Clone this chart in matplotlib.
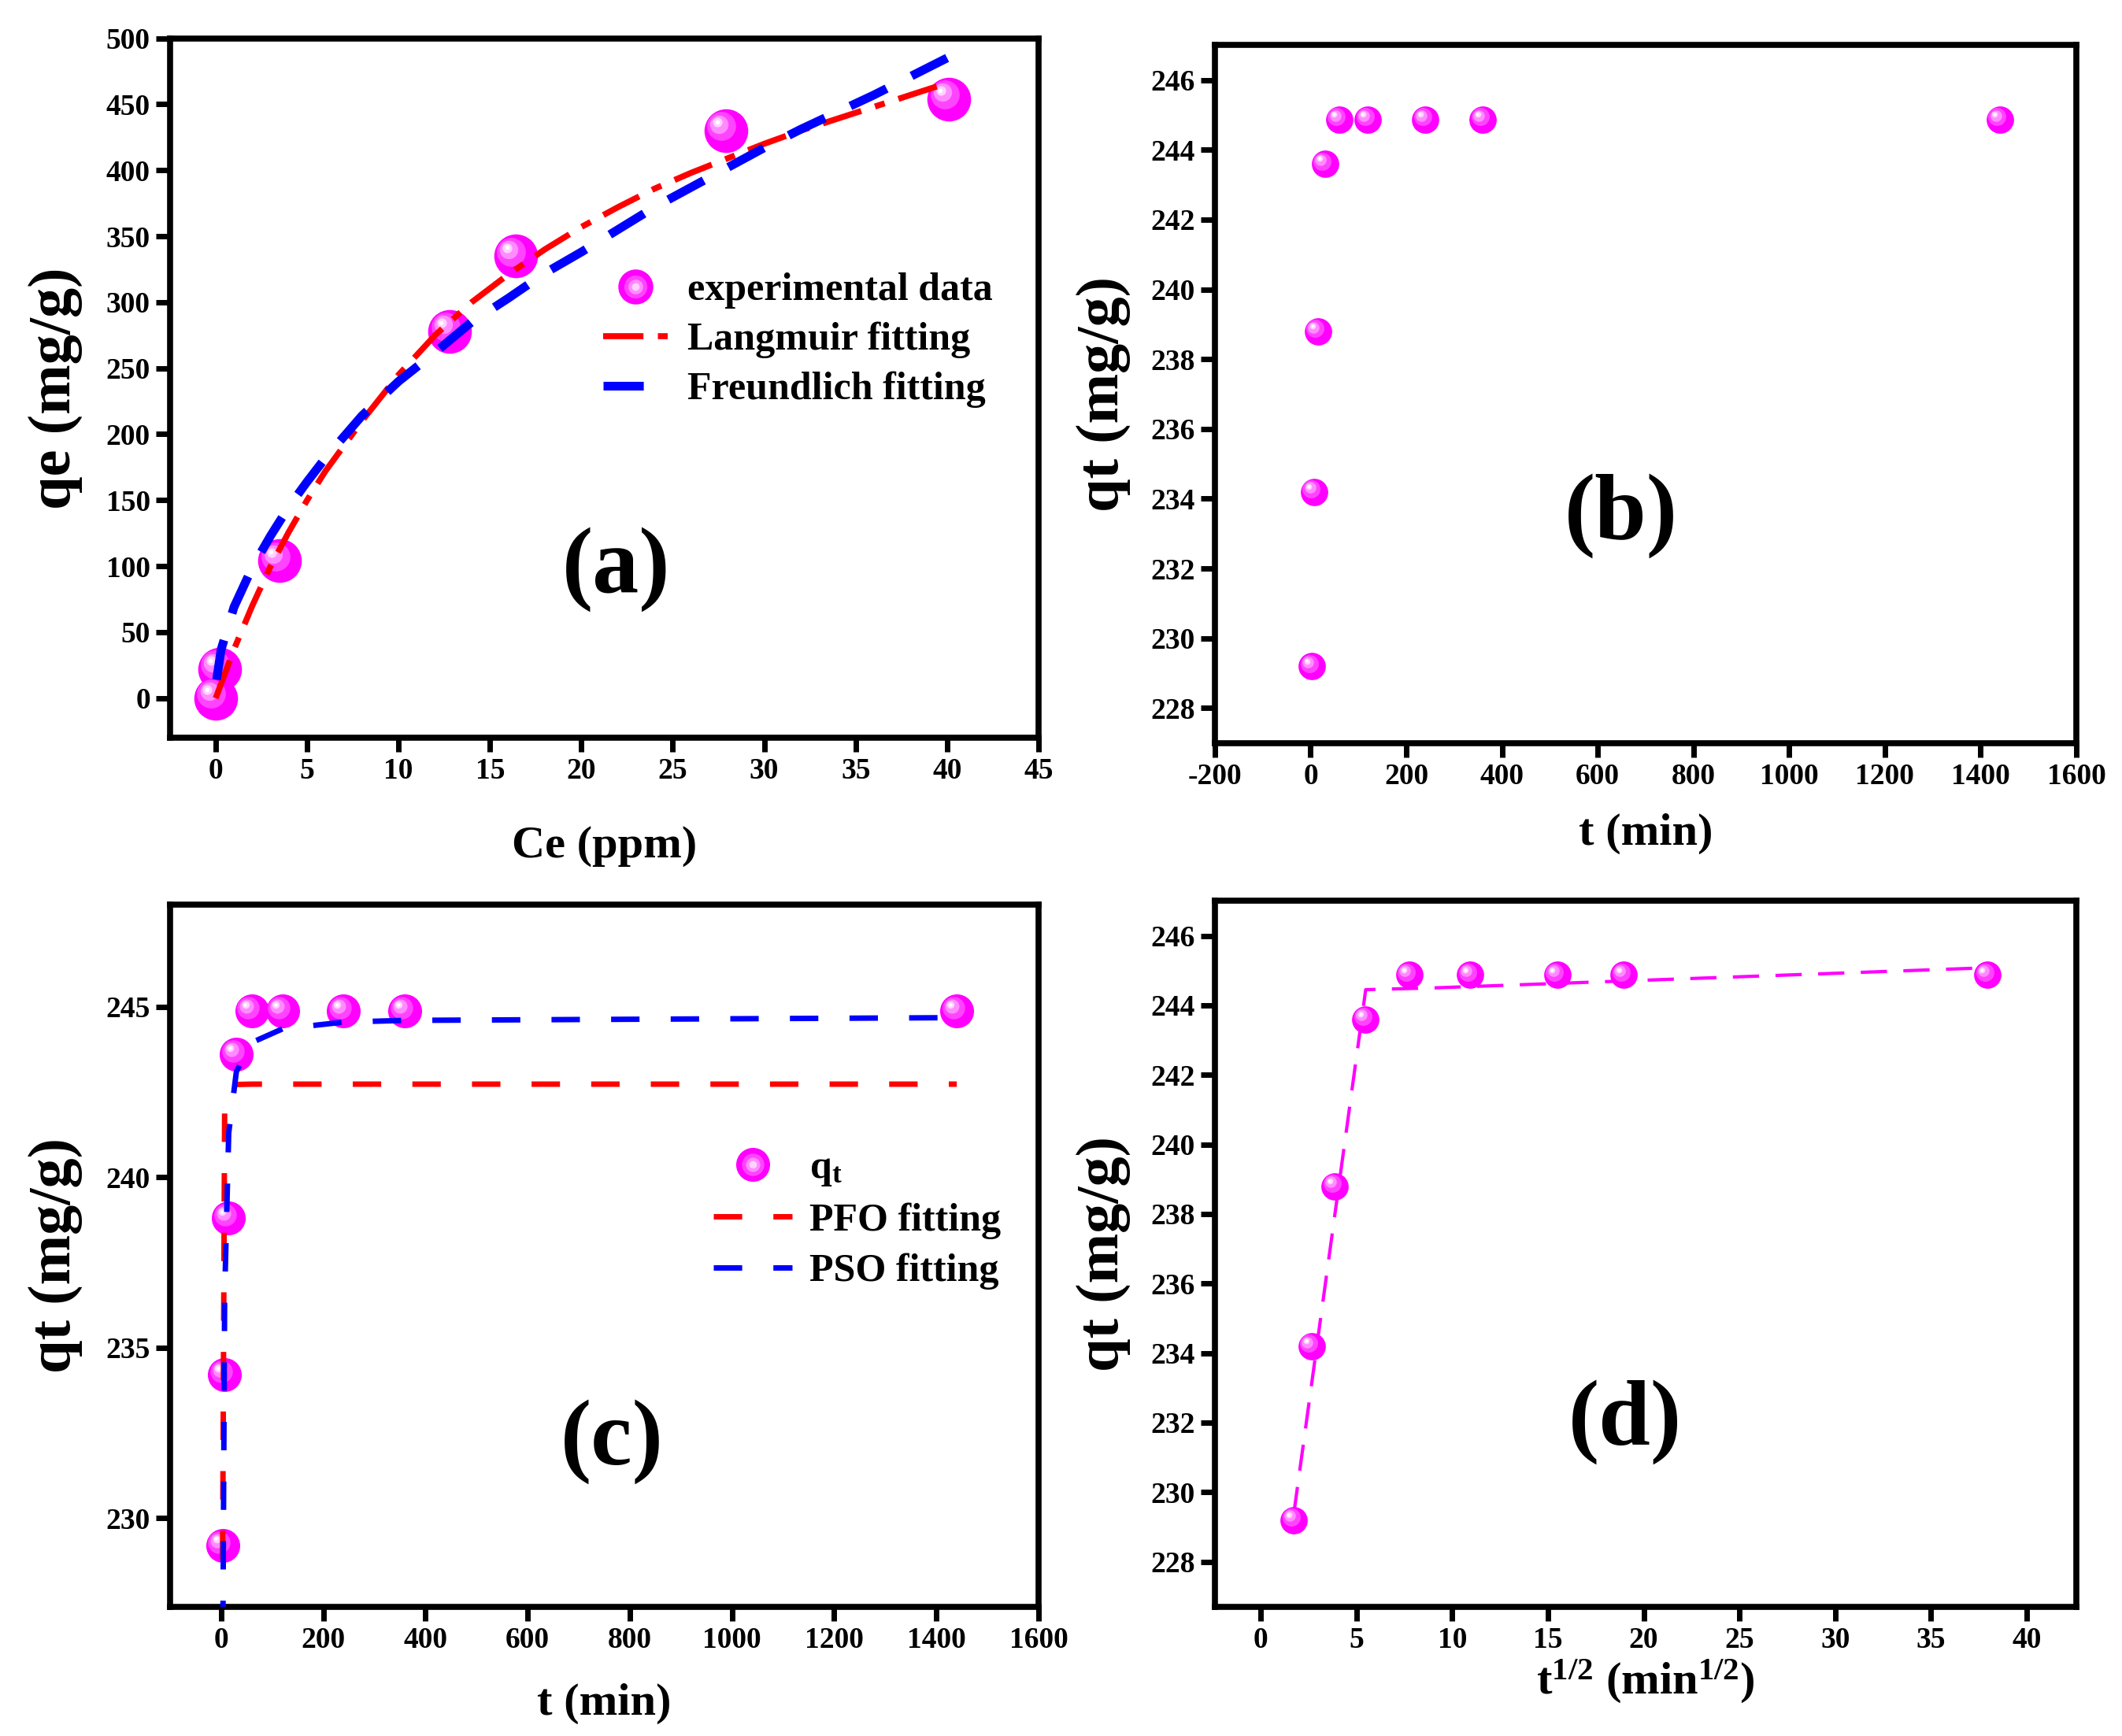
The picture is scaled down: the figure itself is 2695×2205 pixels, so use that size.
import matplotlib
matplotlib.use("Agg")
import matplotlib.pyplot as plt
from matplotlib.lines import Line2D
from matplotlib.transforms import offset_copy
from matplotlib.legend_handler import HandlerTuple

plt.rcParams['font.family'] = ['Liberation Serif', 'DejaVu Serif']
plt.rcParams['font.weight'] = 'bold'
plt.rcParams['axes.unicode_minus'] = False
plt.rcParams['mathtext.fontset'] = 'custom'
plt.rcParams['mathtext.rm'] = 'Liberation Serif:bold'
plt.rcParams['mathtext.it'] = 'Liberation Serif:italic:bold'
plt.rcParams['mathtext.bf'] = 'Liberation Serif:bold'

# ---------------- data ----------------
# (a) isotherm
ce = [0.0, 0.2, 3.5, 12.8, 16.4, 27.9, 40.1]
qe = [0.0, 22.0, 104.0, 278.0, 335.0, 430.0, 454.0]
lang_x = [0, 1, 2, 3, 4, 5, 6, 8, 10, 12, 14, 16, 18, 20, 22, 24, 26, 28, 30, 32, 34, 36, 38, 40]
lang_y = [0, 37, 70, 100, 126, 150, 172, 210, 245, 275, 300, 321, 340, 357, 372, 386, 398, 409, 420, 430, 439, 448, 457, 466]
frd_x = [0.05, 0.3, 1, 2, 3, 4, 5, 6, 8, 10, 12, 14, 16, 18, 20, 22, 24, 26, 28, 30, 32, 34, 36, 38, 40]
frd_y = [14, 37, 69, 99, 123, 145, 164, 182, 214, 240, 262, 285, 303, 322, 338, 355, 372, 387, 402, 417, 431, 444, 457, 471, 485]

# (b),(c) kinetics
t_min = [3, 7, 15, 30, 60, 120, 240, 360, 1440]
qt = [229.2, 234.2, 238.8, 243.6, 244.87, 244.87, 244.87, 244.87, 244.87]
pfo_q = [228.8, 241.9, 242.6, 242.72, 242.73, 242.73, 242.73, 242.73, 242.73]
pso_q = [225.0, 236.5, 241.3, 243.1, 243.95, 244.35, 244.55, 244.6, 244.68]

# (d) intraparticle diffusion
sqrt_t = [1.73, 2.65, 3.87, 5.48, 7.75, 10.95, 15.49, 18.97, 37.95]
ipd_x = [1.73, 5.48, 9.0, 37.95]
ipd_y = [229.4, 244.45, 244.5, 245.08]

# ---------------- style ----------------
MAG = '#ff00ff'
FS_TICK = 27
FS_LEG = 36
SPINE_LW = 5.5

fig = plt.figure(figsize=(26.95, 22.05), dpi=100)
axa = fig.add_axes([0.0801, 0.575, 0.4093, 0.403])
axb = fig.add_axes([0.5725, 0.572, 0.406, 0.402])
axc = fig.add_axes([0.0801, 0.0744, 0.4093, 0.4046])
axd = fig.add_axes([0.5725, 0.0744, 0.406, 0.4066])


def style(ax):
    for s in ax.spines.values():
        s.set_linewidth(SPINE_LW)
    ax.tick_params(axis='both', which='major', direction='out', length=13, width=5,
                   labelsize=FS_TICK, pad=5, top=False, right=False)
    for lab in ax.get_xticklabels() + ax.get_yticklabels():
        lab.set_fontweight('bold')


LAYERS = [(1.0, MAG, 0.0), (0.66, '#ff44ff', 0.10), (0.42, '#ff8cff', 0.15),
          (0.22, '#ffd2ff', 0.19), (0.10, '#ffffff', 0.2)]


def spheres(ax, x, y, ms, zorder=3):
    for frac, col, off in LAYERS:
        tr = offset_copy(ax.transData, fig=ax.figure, x=-off * ms, y=off * ms, units='points')
        ax.plot(x, y, 'o', ms=ms * frac, color=col, mec='none', ls='none',
                transform=tr, zorder=zorder, clip_on=False)


def sphere_handle(ms):
    return tuple(Line2D([], [], marker='o', ms=ms * frac, color=col, mec='none', ls='none')
                 for frac, col, off in LAYERS[:4])


def set_labels(ax, xl, yl, xy, yx, xsize, ysize):
    ax.set_xlabel(xl, fontsize=xsize, fontweight='bold')
    ax.set_ylabel(yl, fontsize=ysize, fontweight='bold')
    ax.xaxis.label.set_va('center')
    ax.yaxis.label.set_va('center')
    ax.xaxis.set_label_coords(0.5, xy)
    ax.yaxis.set_label_coords(yx, 0.5)


legprop = dict(family='Liberation Serif', weight='bold', size=FS_LEG)

# ---------------- (a) ----------------
ax = axa
spheres(ax, ce, qe, 40, zorder=3)
la, = ax.plot(lang_x, lang_y, color='red', lw=5.5, dashes=(6.7, 2.4, 1.7, 2.4), zorder=4)
lf, = ax.plot(frd_x, frd_y, color='blue', lw=8, dashes=(4.6, 3.2), zorder=4)
ax.set_xlim(-2.5, 45)
ax.set_ylim(-30, 500)
ax.set_xticks(range(0, 46, 5))
ax.set_yticks(range(0, 501, 50))
style(ax)
set_labels(ax, 'Ce (ppm)', 'qe (mg/g)', -0.155, -0.132, 42, 55)
ax.legend([sphere_handle(32), la, lf], ['experimental data', 'Langmuir fitting', 'Freundlich fitting'],
          handler_map={tuple: HandlerTuple(ndivide=1)},
          loc='upper left', bbox_to_anchor=(0.499, 0.665), frameon=False, borderpad=0,
          borderaxespad=0, handlelength=1.64, handletextpad=0.5, labelspacing=0.33,
          prop=legprop)
ax.text(0.514, 0.241, '(a)', transform=ax.transAxes, ha='center', va='center',
        fontsize=85, fontweight='bold')

# ---------------- (b) ----------------
ax = axb
spheres(ax, t_min, qt, 25)
ax.set_xlim(-200, 1600)
ax.set_ylim(227, 247)
ax.set_xticks(range(-200, 1601, 200))
ax.set_yticks(range(228, 247, 2))
style(ax)
set_labels(ax, 't (min)', 'qt (mg/g)', -0.130, -0.129, 42, 55)
ax.text(0.472, 0.326, '(b)', transform=ax.transAxes, ha='center', va='center',
        fontsize=85, fontweight='bold')

# ---------------- (c) ----------------
ax = axc
spheres(ax, t_min, qt, 31)
lp, = ax.plot(t_min, pfo_q, color='red', lw=5, dashes=(5.2, 5.7), zorder=4)
ls_, = ax.plot(t_min, pso_q, color='blue', lw=5, dashes=(5.2, 5.7), zorder=4)
ax.set_xlim(-100, 1600)
ax.set_ylim(227.4, 248)
ax.set_xticks(range(0, 1601, 200))
ax.set_yticks([230, 235, 240, 245])
style(ax)
set_labels(ax, 't (min)', 'qt (mg/g)', -0.138, -0.132, 42, 55)
ax.legend([sphere_handle(31), lp, ls_], ['q$_\\mathrm{t}$', 'PFO fitting', 'PSO fitting'],
          handler_map={tuple: HandlerTuple(ndivide=1)},
          loc='upper left', bbox_to_anchor=(0.626, 0.65), frameon=False, borderpad=0,
          borderaxespad=0, handlelength=2.0, handletextpad=0.44, labelspacing=0.36,
          prop=legprop)
ax.text(0.509, 0.235, '(c)', transform=ax.transAxes, ha='center', va='center',
        fontsize=85, fontweight='bold')

# ---------------- (d) ----------------
ax = axd
ax.plot(ipd_x, ipd_y, color=MAG, lw=3, dashes=(8, 5), zorder=2)
spheres(ax, sqrt_t, qt, 25)
ax.set_xlim(-2.4, 42.6)
ax.set_ylim(226.7, 247)
ax.set_xticks(range(0, 41, 5))
ax.set_yticks(range(228, 247, 2))
style(ax)
set_labels(ax, 't$^{\\mathrm{1/2}}$ (min$^{\\mathrm{1/2}}$)', 'qt (mg/g)', -0.106, -0.129, 42, 55)
ax.text(0.476, 0.262, '(d)', transform=ax.transAxes, ha='center', va='center',
        fontsize=85, fontweight='bold')

fig.savefig('out.png', dpi=100)
